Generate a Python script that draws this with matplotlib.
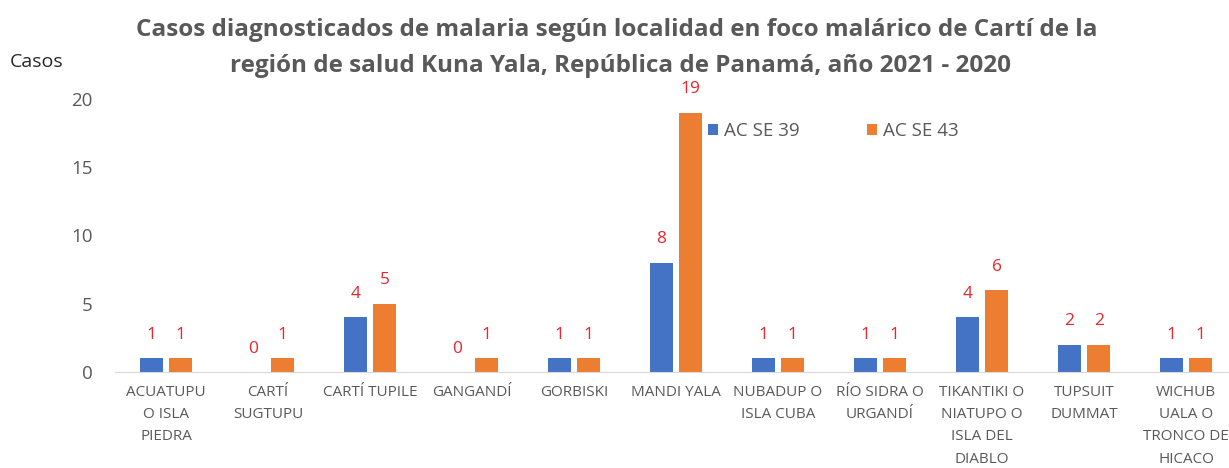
import matplotlib
matplotlib.use("Agg")
import matplotlib.pyplot as plt
import numpy as np

categories = ["ACUATUPU\nO ISLA\nPIEDRA", "CARTÍ\nSUGTUPU", "CARTÍ TUPILE", "GANGANDÍ",
              "GORBISKI", "MANDI YALA", "NUBADUP O\nISLA CUBA", "RÍO SIDRA O\nURGANDÍ",
              "TIKANTIKI O\nNIATUPO O\nISLA DEL\nDIABLO", "TUPSUIT\nDUMMAT",
              "WICHUB\nUALA O\nTRONCO DE\nHICACO"]
se39 = [1, 0, 4, 0, 1, 8, 1, 1, 4, 2, 1]
se43 = [1, 1, 5, 1, 1, 19, 1, 1, 6, 2, 1]
series_names = ["AC SE 39", "AC SE 43"]
y_ticks = [0, 5, 10, 15, 20]

plt.rcParams['font.family'] = ['Open Sans', 'DejaVu Sans']
gray = '#595959'
blue = '#4472C4'
orange = '#ED7D31'
red = '#E8262B'

W, H = 1229, 468
fig = plt.figure(figsize=(W / 100, H / 100), dpi=100)
left, right, bottom, top = 115, 1237, 372, 99
ax = fig.add_axes([left / W, (H - bottom) / H, (right - left) / W, (bottom - top) / H])

x = np.arange(len(categories))
bw = 0.225
off = 0.145
b1 = ax.bar(x - off, se39, bw, color=blue, label=series_names[0])
b2 = ax.bar(x + off, se43, bw, color=orange, label=series_names[1])

# etiquetas de datos en rojo
for bars, vals in ((b1, se39), (b2, se43)):
    for rect, v in zip(bars, vals):
        ax.annotate(str(v), (rect.get_x() + rect.get_width() / 2, v),
                    xytext=(0, 14), textcoords='offset points',
                    ha='center', va='baseline', color=red, fontsize=12.5)

ax.set_xlim(-0.5, len(categories) - 0.5)
ax.set_ylim(0, 20)
ax.set_yticks(y_ticks)
ax.tick_params(axis='y', length=0, pad=16, labelsize=13.5, labelcolor=gray)
ax.tick_params(axis='x', length=0, pad=9, labelcolor=gray)
ax.set_xticks(x)
ax.set_xticklabels(categories, fontsize=11, linespacing=1.68, va='top')

for s in ('top', 'right', 'left'):
    ax.spines[s].set_visible(False)
ax.spines['bottom'].set_color('#D9D9D9')

fig.legend(loc='center left', bbox_to_anchor=(708 / W, 1 - 131 / H),
           ncol=2, frameon=False, fontsize=13.5, labelcolor=gray,
           handlelength=0.55, handleheight=0.55, handletextpad=0.3, columnspacing=3.6,
           borderaxespad=0, borderpad=0)

fig.text(10 / W, 1 - 62 / H, "Casos", fontsize=14, color='#262626', va='center')
fig.text(617 / W, 1 - 30 / H,
         "Casos diagnosticados de malaria según localidad en foco malárico de Cartí de la",
         ha='center', va='center', fontsize=17.5, fontweight='bold', color=gray)
fig.text(620 / W, 1 - 66 / H,
         "región de salud Kuna Yala, República de Panamá, año 2021 - 2020",
         ha='center', va='center', fontsize=17.5, fontweight='bold', color=gray)

fig.savefig("out.png", dpi=100)
